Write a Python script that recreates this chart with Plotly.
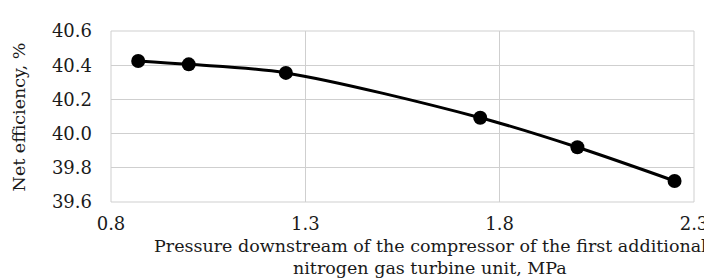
import plotly.graph_objects as go

pressure = [0.87, 1.0, 1.25, 1.75, 2.0, 2.25]
efficiency = [40.425, 40.405, 40.355, 40.093, 39.92, 39.723]
x_ticks = [0.8, 1.3, 1.8, 2.3]
y_ticks = [39.6, 39.8, 40.0, 40.2, 40.4, 40.6]
x_title_lines = ["Pressure downstream of the compressor of the first additional",
                 "nitrogen gas turbine unit, MPa"]
y_title = "Net efficiency, %"

font = "DejaVu Serif"
txt = "#1a1a1a"
L, R, T, B, W, H = 103, 14, 20, 86, 712, 280
pw, ph = W - L - R, H - T - B

fig = go.Figure()
fig.add_trace(go.Scatter(
    x=pressure, y=efficiency, mode="lines+markers",
    line=dict(color="black", width=3, shape="spline", smoothing=0.9),
    marker=dict(color="black", size=14),
    showlegend=False,
))

fig.update_layout(
    width=W, height=H,
    margin=dict(l=L, r=R, t=T, b=B),
    paper_bgcolor="white", plot_bgcolor="white",
    font=dict(family=font, color=txt, size=18),
    xaxis=dict(
        range=[0.8, 2.3], tickvals=x_ticks, ticktext=[f"{v:.1f}" for v in x_ticks],
        tickfont=dict(family=font, size=18, color=txt),
        showgrid=True, gridcolor="#cfcfcf", gridwidth=1, zeroline=False,
        showline=False, ticks="", ticklabelstandoff=9, ticklabeloverflow="allow",
    ),
    yaxis=dict(
        range=[39.6, 40.6], tickvals=y_ticks, ticktext=[f"{v:.1f}" for v in y_ticks],
        tickfont=dict(family=font, size=18, color=txt),
        showgrid=True, gridcolor="#cfcfcf", gridwidth=1, zeroline=False,
        showline=False, ticks="", ticklabelstandoff=18,
    ),
)
fig.add_shape(type="rect", xref="paper", yref="paper", x0=0, y0=0, x1=1, y1=1,
              line=dict(color="#cfcfcf", width=1), layer="below")

for text, ypix in zip(x_title_lines, [239, 261]):
    fig.add_annotation(text=text, xref="paper", yref="paper",
                       x=(429 - L) / pw, y=(H - B - ypix) / ph,
                       xanchor="center", yanchor="middle", showarrow=False,
                       font=dict(family=font, size=17.5, color=txt))
fig.add_annotation(text=y_title, xref="paper", yref="paper",
                   x=(9 - L) / pw, y=(H - B - 107) / ph, textangle=-90,
                   xanchor="center", yanchor="middle", showarrow=False,
                   font=dict(family=font, size=17.5, color=txt))

fig.write_html("out.html")
